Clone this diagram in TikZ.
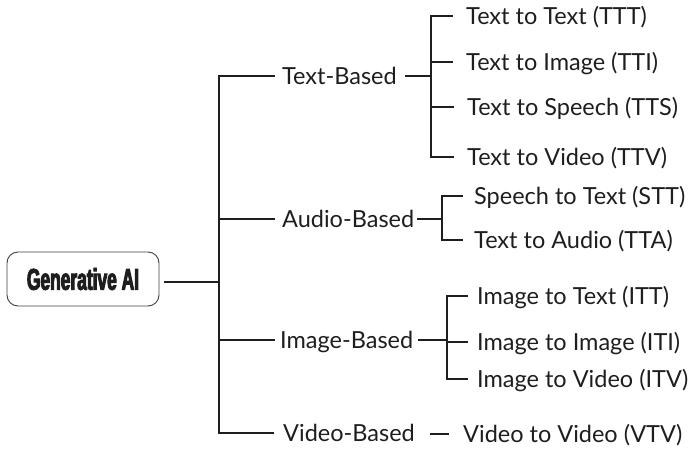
\documentclass[tikz,border=0pt]{standalone}
\usepackage{fontspec}
\setmainfont{Lato}
\newfontfamily\genfont{Liberation Sans}[FakeBold=3.2, FakeStretch=0.58]
\usetikzlibrary{calc}
\definecolor{ink}{HTML}{1E1E1E}
\tikzset{
  ln/.style={draw=ink, line width=2.8pt},
  lbl/.style={anchor=west, inner sep=0pt, text=ink, font=\fontsize{23.5}{27}\selectfont, text height=17pt, text depth=0pt},
  root/.style={draw=ink!85, line width=0.9pt, rounded corners=11pt, minimum width=152pt, minimum height=54pt, inner sep=0pt, text=ink}
}
\begin{document}
\begin{tikzpicture}[x=1pt,y=-1pt]
\useasboundingbox (0,0) rectangle (690,450);
% root
\node[root] (gen) at (83,279) {\genfont\bfseries\fontsize{30}{32}\selectfont Generative AI};
\coordinate (trunk) at (219,0);
\coordinate (sT) at (431,0);
\coordinate (sA) at (442,0);
\coordinate (sI) at (447,0);
\coordinate (gE) at ([xshift=5pt,yshift=-3pt]gen.east);
% categories
\node[lbl] (tb) at (282,76) {Text-Based};
\node[lbl] (ab) at (282,219) {Audio-Based};
\node[lbl] (ib) at (280,340) {Image-Based};
\node[lbl] (vb) at (283,433) {Video-Based};
% leaves
\node[lbl] (t1) at (466,16) {Text to Text (TTT)};
\node[lbl] (t2) at (466,62) {Text to Image (TTI)};
\node[lbl] (t3) at (467,107) {Text to Speech (TTS)};
\node[lbl] (t4) at (467,157) {Text to Video (TTV)};
\node[lbl] (a1) at (474,196) {Speech to Text (STT)};
\node[lbl] (a2) at (474,240) {Text to Audio (TTA)};
\node[lbl] (i1) at (477,296) {Image to Text (ITT)};
\node[lbl] (i2) at (477,342) {Image to Image (ITI)};
\node[lbl] (i3) at (477,379) {Image to Video (ITV)};
\node[lbl] (v1) at (463,434) {Video to Video (VTV)};
% main trunk
\draw[ln] (gE) -- (trunk |- gE);
\draw[ln] ([xshift=-7pt]tb.west) -| (trunk |- vb.west) -- ([xshift=-9pt]vb.west);
\draw[ln] ([xshift=-7pt]ab.west) -- (trunk |- ab.west);
\draw[ln] ([xshift=-5pt]ib.west) -- (trunk |- ib.west);
% text-based
\draw[ln] ([xshift=8pt]tb.east) -- (sT |- tb.east);
\draw[ln] ([xshift=-13pt]t1.west) -| (sT |- t4.west) -- ([xshift=-13pt]t4.west);
\draw[ln] ([xshift=-13pt]t2.west) -- (sT |- t2.west);
\draw[ln] ([xshift=-13pt]t3.west) -- (sT |- t3.west);
% audio-based
\draw[ln] ([xshift=3pt]ab.east) -- (sA |- ab.east);
\draw[ln] ([xshift=-11pt]a1.west) -| (sA |- a2.west) -- ([xshift=-11pt]a2.west);
% image-based
\draw[ln] ([xshift=5pt]ib.east) -- (sI |- ib.east);
\draw[ln] ([xshift=-9pt]i1.west) -| (sI |- i3.west) -- ([xshift=-9pt]i3.west);
\draw[ln] ([xshift=-9pt]i2.west) -- (sI |- i2.west);
% video-based
\draw[ln] ([xshift=-33pt]v1.west) -- ([xshift=-14pt]v1.west);
\end{tikzpicture}
\end{document}
